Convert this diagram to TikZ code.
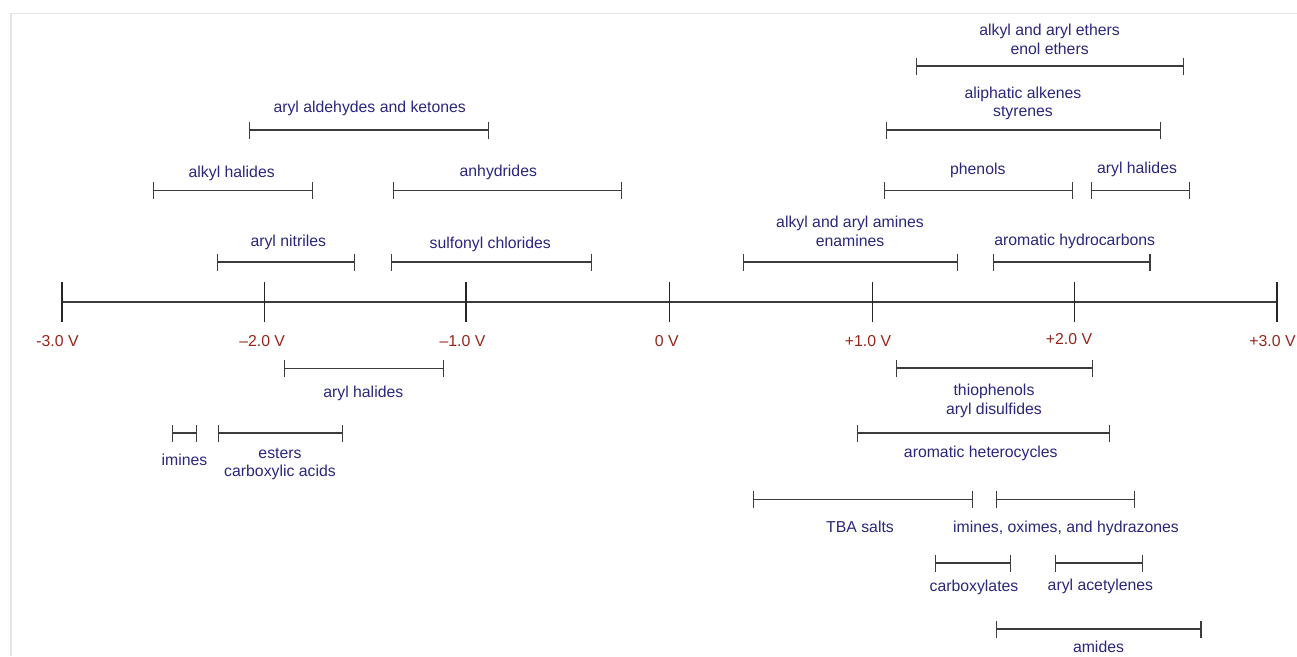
\documentclass[tikz,border=0pt]{standalone}
\usepackage{fontspec}
\setmainfont{Liberation Sans}
\usetikzlibrary{arrows.meta}
\definecolor{lblblue}{RGB}{42,38,125}
\definecolor{lblred}{RGB}{150,36,26}
\definecolor{linegray}{RGB}{60,60,60}
\definecolor{framegray}{RGB}{228,228,228}
\tikzset{
  lbl/.style={anchor=base, inner sep=0pt, text=lblblue, align=center,
    font=\fontsize{15.8}{18.3}\selectfont},
  vlbl/.style={anchor=base, inner sep=0pt, text=lblred,
    font=\fontsize{15.8}{18.3}\selectfont},
  rangebar/.style={draw=linegray, line width=1.1pt,
    {Bar[width=17pt,line width=1.1pt]}-{Bar[width=17pt,line width=1.1pt]}},
  axisline/.style={draw=linegray, line width=1.1pt},
  tickline/.style={draw=black!85, line width=1.1pt},
}
\begin{document}
\begin{tikzpicture}[x=1pt,y=-1pt]
\useasboundingbox (0,0) rectangle (1297,656);
% frame
\draw[framegray, line width=1.5pt] (11,656) -- (11,13.5) -- (1297,13.5);
% axis
\coordinate (t-3) at (62,302);
\coordinate (t-2) at (264.3,302);
\coordinate (t-1) at (466,302);
\coordinate (t0) at (669.3,302);
\coordinate (t1) at (872.3,302);
\coordinate (t2) at (1074.5,302);
\coordinate (t3) at (1277,302);
\draw[axisline] (t-3) -- (t3);
\foreach \t in {-3,-2,-1,0,1,2,3}{
  \draw[tickline] ([yshift=20pt]t\t) -- ([yshift=-20pt]t\t);
}
\node[vlbl] (v-3) at (57.5,346) {-3.0 V};
\node[vlbl] (v-2) at (262.2,346) {–2.0 V};
\node[vlbl] (v-1) at (462.5,346) {–1.0 V};
\node[vlbl] (v0) at (666.7,346) {0 V};
\node[vlbl] (v1) at (868,346) {+1.0 V};
\node[vlbl] (v2) at (1069,344) {+2.0 V};
\node[vlbl] (v3) at (1272.5,346) {+3.0 V};

% ---- above axis ----
\coordinate (eth-l) at (915.5,66); \coordinate (eth-r) at (1183.6,66);
\draw[rangebar] (eth-l) -- (eth-r);
\node[lbl] (eth) at (1049.6,54) {alkyl and aryl ethers\\enol ethers};

\coordinate (alk-l) at (885.5,130); \coordinate (alk-r) at (1161.2,130);
\draw[rangebar] (alk-l) -- (alk-r);
\node[lbl] (alk) at (1023,116.5) {aliphatic alkenes\\styrenes};

\coordinate (ald-l) at (249.3,130); \coordinate (ald-r) at (488.7,130);
\draw[rangebar] (ald-l) -- (ald-r);
\node[lbl] (ald) at (369.7,112.7) {aryl aldehydes and ketones};

\coordinate (ahal-l) at (153.3,190.7); \coordinate (ahal-r) at (312.7,190.7);
\draw[rangebar] (ahal-l) -- (ahal-r);
\node[lbl] (ahal) at (231.7,177.5) {alkyl halides};

\coordinate (anh-l) at (392.7,190.7); \coordinate (anh-r) at (622,190.7);
\draw[rangebar] (anh-l) -- (anh-r);
\node[lbl] (anh) at (498.3,176) {anhydrides};

\coordinate (phe-l) at (884.3,190.7); \coordinate (phe-r) at (1072.8,190.7);
\draw[rangebar] (phe-l) -- (phe-r);
\node[lbl] (phe) at (977.8,174) {phenols};

\coordinate (rhal-l) at (1091,190.7); \coordinate (rhal-r) at (1189.7,190.7);
\draw[rangebar] (rhal-l) -- (rhal-r);
\node[lbl] (rhal) at (1137,173.5) {aryl halides};

\coordinate (nit-l) at (216.7,262); \coordinate (nit-r) at (354.7,262);
\draw[rangebar] (nit-l) -- (nit-r);
\node[lbl] (nit) at (288.3,246.7) {aryl nitriles};

\coordinate (sul-l) at (391.3,262); \coordinate (sul-r) at (592.3,262);
\draw[rangebar] (sul-l) -- (sul-r);
\node[lbl] (sul) at (490.3,248.3) {sulfonyl chlorides};

\coordinate (ami-l) at (742.6,262); \coordinate (ami-r) at (957.8,262);
\draw[rangebar] (ami-l) -- (ami-r);
\node[lbl] (ami) at (850,246) {alkyl and aryl amines\\enamines};

\coordinate (hyd-l) at (992.8,262); \coordinate (hyd-r) at (1150.5,262);
\draw[rangebar] (hyd-l) -- (hyd-r);
\node[lbl] (hyd) at (1074.7,245.5) {aromatic hydrocarbons};

% ---- below axis ----
\coordinate (lhal-l) at (283.5,368.5); \coordinate (lhal-r) at (444,368.5);
\draw[rangebar] (lhal-l) -- (lhal-r);
\node[lbl] (lhal) at (363.3,397) {aryl halides};

\coordinate (imi-l) at (172.3,433); \coordinate (imi-r) at (197.3,433);
\draw[rangebar] (imi-l) -- (imi-r);
\node[lbl] (imi) at (184.5,465) {imines};

\coordinate (est-l) at (218.3,433); \coordinate (est-r) at (343.3,433);
\draw[rangebar] (est-l) -- (est-r);
\node[lbl] (est) at (280,476.7) {esters\\carboxylic acids};

\coordinate (thi-l) at (895.7,368); \coordinate (thi-r) at (1093,368);
\draw[rangebar] (thi-l) -- (thi-r);
\node[lbl] (thi) at (994,414) {thiophenols\\aryl disulfides};

\coordinate (het-l) at (856.5,433); \coordinate (het-r) at (1109.7,433);
\draw[rangebar] (het-l) -- (het-r);
\node[lbl] (het) at (980.8,457.7) {aromatic heterocycles};

\coordinate (tba-l) at (752.6,499.5); \coordinate (tba-r) at (973.4,499.5);
\draw[rangebar] (tba-l) -- (tba-r);
\node[lbl] (tba) at (860,532.3) {TBA salts};

\coordinate (iox-l) at (995.5,499.5); \coordinate (iox-r) at (1134.9,499.5);
\draw[rangebar] (iox-l) -- (iox-r);
\node[lbl] (iox) at (1066,532.3) {imines, oximes, and hydrazones};

\coordinate (cbx-l) at (935.3,563); \coordinate (cbx-r) at (1011,563);
\draw[rangebar] (cbx-l) -- (cbx-r);
\node[lbl] (cbx) at (974,591.7) {carboxylates};

\coordinate (ace-l) at (1055.3,563); \coordinate (ace-r) at (1142.9,563);
\draw[rangebar] (ace-l) -- (ace-r);
\node[lbl] (ace) at (1100.4,590.7) {aryl acetylenes};

\coordinate (amd-l) at (995.9,629); \coordinate (amd-r) at (1201.5,629);
\draw[rangebar] (amd-l) -- (amd-r);
\node[lbl] (amd) at (1098.5,652) {amides};
\end{tikzpicture}
\end{document}
